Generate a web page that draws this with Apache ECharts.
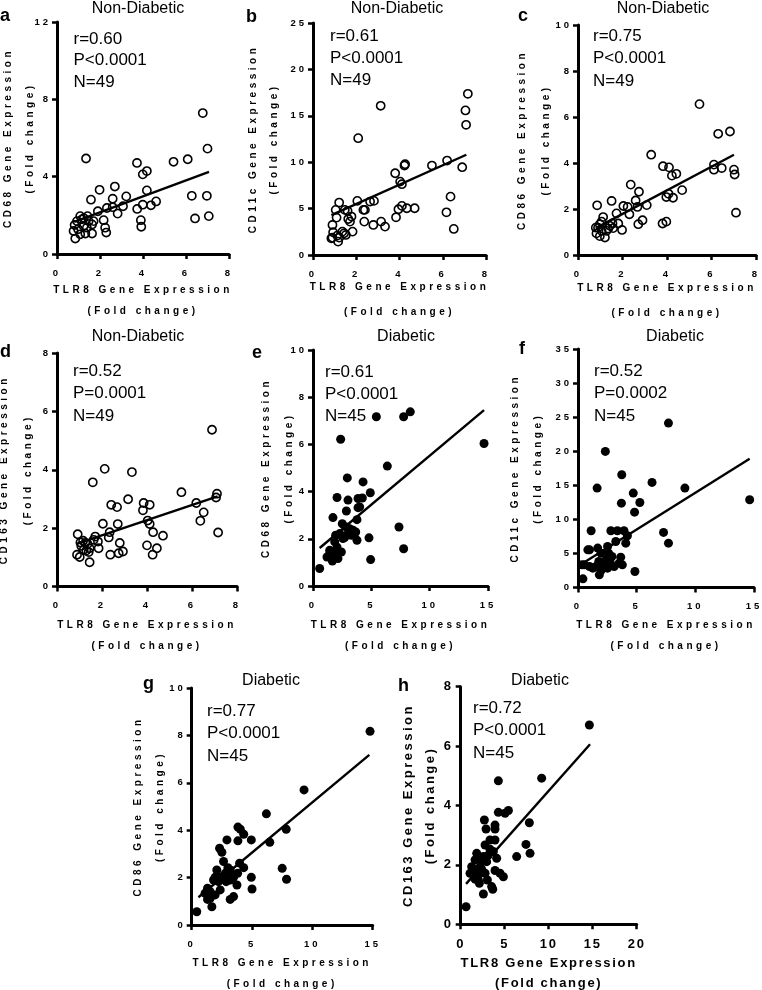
<!DOCTYPE html>
<html><head><meta charset="utf-8">
<script src="https://cdn.jsdelivr.net/npm/echarts@6/dist/echarts.min.js"></script>
<style>
html,body{margin:0;padding:0;background:#fff;overflow:hidden}
#c{width:762px;height:990px}
</style></head>
<body><div id="c"></div>
<script>
// ---------- DATA ----------
const panelLetters = ['a','b','c','d','e','f','g','h'];
const groupTitles = ['Non-Diabetic','Non-Diabetic','Non-Diabetic','Non-Diabetic','Diabetic','Diabetic','Diabetic','Diabetic'];
const xAxisTitle = 'TLR8 Gene Expression';
const foldLabel = '(Fold change)';
const yAxisTitles = ['CD68 Gene Expression','CD11c Gene Expression','CD86 Gene Expression','CD163 Gene Expression','CD68 Gene Expression','CD11c Gene Expression','CD86 Gene Expression','CD163 Gene Expression'];
const rText = ['r=0.60','r=0.61','r=0.75','r=0.52','r=0.61','r=0.52','r=0.77','r=0.72'];
const pText = ['P<0.0001','P<0.0001','P<0.0001','P=0.0001','P<0.0001','P=0.0002','P<0.0001','P<0.0001'];
const nText = ['N=49','N=49','N=49','N=49','N=45','N=45','N=45','N=45'];

const aTLR8 = [6.78,7.00,6.08,5.42,3.72,4.18,3.99,1.35,1.98,2.69,3.22,4.18,6.27,6.97,1.58,2.59,4.61,4.37,3.99,3.73,3.07,2.82,2.59,2.32,1.90,2.17,2.24,2.29,3.90,3.92,6.42,7.06,1.42,1.08,0.93,0.82,0.77,0.85,1.08,1.24,1.39,1.63,1.63,1.70,1.32,1.16,0.98,1.47,1.25];
const aCD68 = [7.29,5.45,4.90,4.77,4.71,4.29,4.12,4.94,3.32,3.49,2.98,3.29,3.01,3.01,2.81,2.86,2.72,2.52,2.55,2.33,2.47,2.09,2.42,2.38,2.21,1.75,1.36,1.11,1.75,1.41,1.84,1.96,1.96,1.96,1.70,1.50,1.19,0.80,1.02,1.45,1.36,1.06,1.53,1.70,1.06,1.79,1.28,1.70,1.85];
const aFitX = [0.80,7.07], aFitY = [1.66,4.25];
const bTLR8 = [7.16,7.05,7.08,3.13,2.09,5.50,6.20,6.90,4.23,4.26,3.80,4.03,4.11,4.11,3.95,3.84,4.34,4.70,6.36,6.17,6.51,2.64,2.82,2.05,2.33,2.37,2.79,3.15,3.33,1.21,1.05,1.47,1.60,1.09,1.78,1.71,0.90,1.36,1.83,1.52,0.93,0.90,1.21,1.16,1.12,1.44,0.85,1.63,2.40];
const bCD11c = [17.37,15.58,14.03,16.08,12.59,9.64,10.18,9.46,9.64,9.78,8.81,7.91,7.63,5.29,4.93,4.06,5.04,5.04,6.29,4.60,2.81,5.76,5.83,5.83,4.86,3.60,3.24,3.60,3.06,5.65,4.86,4.86,4.75,4.03,4.14,3.60,3.24,2.52,2.52,2.16,2.45,1.87,1.87,1.44,2.09,2.34,1.80,3.88,4.86];
const bFitX = [0.85,7.09], bFitY = [4.30,10.80];
const cTLR8 = [5.46,6.30,6.83,6.11,6.46,6.11,7.01,7.04,7.10,3.29,3.82,4.09,4.22,4.42,4.68,4.07,3.97,4.27,2.37,2.74,2.59,3.09,2.67,2.90,2.71,3.80,3.97,1.51,0.86,2.04,2.23,2.31,1.73,1.81,1.98,1.13,1.06,0.90,0.83,0.98,1.21,1.36,1.28,1.55,1.06,0.98,1.43,1.58,0.80];
const cCD86 = [6.56,5.27,5.37,3.93,3.78,3.71,3.71,3.50,1.84,4.36,3.86,3.81,3.45,3.53,2.82,2.66,2.52,2.49,3.06,2.75,2.37,2.17,2.09,1.51,1.34,1.37,1.45,2.35,2.16,2.13,2.09,1.77,1.81,1.37,1.09,1.65,1.45,1.19,0.94,0.82,0.76,1.15,1.05,1.37,1.05,1.34,1.27,1.17,1.19];
const cFitX = [0.80,7.01], cFitY = [1.17,4.36];
const dTLR8 = [6.89,2.12,3.33,1.59,5.53,7.11,7.07,6.19,6.52,6.37,7.16,3.16,2.41,2.67,3.82,4.12,3.85,4.03,4.12,4.27,4.71,4.00,4.44,4.25,2.04,2.70,2.34,2.30,2.79,2.93,2.74,2.37,1.70,1.82,1.85,0.92,1.16,1.08,1.30,1.45,0.89,1.01,1.45,1.41,1.19,1.63,1.04,1.26,1.36];
const dCD163 = [5.37,4.03,3.92,3.57,3.23,3.18,3.05,2.86,2.54,2.25,1.85,2.99,2.80,2.72,2.61,2.80,2.86,2.26,2.14,1.86,1.74,1.41,1.31,1.09,2.15,2.14,1.86,1.68,1.49,1.20,1.14,1.09,1.71,1.54,1.31,1.79,1.57,1.39,1.23,1.31,1.09,1.01,0.83,1.18,1.26,1.60,1.51,1.49,1.46];
const dFitX = [0.90,7.14], dFitY = [1.47,3.09];
const eTLR8 = [14.66,8.34,7.77,5.43,2.37,6.37,2.94,4.29,4.91,2.06,3.00,3.86,4.23,3.86,2.86,3.77,1.71,2.51,7.37,7.77,4.80,4.94,1.94,3.00,3.43,3.14,3.66,3.77,2.71,2.29,1.86,1.43,1.20,1.66,2.14,2.43,2.00,1.43,0.57,3.29,2.86,2.06,4.00,1.86,2.57];
const eCD68 = [6.04,7.38,7.17,7.17,6.22,5.08,4.58,4.41,3.95,3.75,3.64,3.71,3.73,3.32,3.18,2.81,2.90,2.64,2.50,1.58,2.04,1.12,2.15,2.22,2.36,2.43,2.29,1.94,2.05,2.22,1.87,1.51,1.23,1.06,1.16,1.44,1.37,1.37,0.74,2.15,2.50,1.65,3.35,1.20,2.01];
const eFitX = [0.57,14.66], eFitY = [1.61,7.45];
const fTLR8 = [14.63,7.71,2.33,3.73,1.63,6.31,9.11,4.71,5.27,3.70,4.82,7.29,7.71,4.85,1.12,2.80,3.36,3.92,4.21,4.07,3.22,2.52,1.68,0.98,1.96,2.61,2.89,3.64,3.50,3.78,3.08,2.52,2.24,1.77,1.26,1.82,0.98,0.34,0.42,1.54,1.96,2.38,2.72,0.56,0.84];
const fCD11c = [12.87,24.13,19.97,16.54,14.59,15.42,14.59,13.85,12.48,12.38,11.06,8.08,6.51,2.35,8.32,8.32,8.32,8.32,7.59,6.51,6.75,6.02,5.78,5.53,5.04,5.04,4.55,4.45,3.57,3.33,3.08,2.84,3.33,3.82,2.84,1.86,3.08,3.33,1.27,3.08,2.50,4.06,3.82,3.33,5.53];
const fFitX = [0.34,14.63], fFitY = [3.50,18.90];
const gTLR8 = [14.78,9.31,6.19,7.83,6.47,7.50,7.86,4.94,4.94,5.00,3.83,4.03,4.31,3.83,2.92,2.31,2.50,2.64,3.97,4.31,3.81,3.75,3.19,3.00,3.47,3.19,2.86,2.50,2.08,1.94,1.81,2.22,1.31,1.53,1.11,1.31,1.94,1.67,0.42,3.19,3.47,1.53,2.78,2.36,3.33];
const gCD86 = [8.17,5.70,4.69,4.04,3.49,2.39,1.93,3.59,2.01,1.52,4.13,4.04,3.83,3.55,3.59,3.24,3.07,2.68,2.61,2.42,2.18,1.69,2.32,2.42,2.01,1.90,1.83,2.04,2.32,2.01,1.90,1.83,1.55,1.41,1.34,1.08,1.27,0.77,0.56,1.08,1.20,1.13,2.18,1.48,2.11];
const gFitX = [0.56,14.72], gFitY = [1.17,7.18];
const hTLR8 = [14.62,9.20,4.28,4.28,5.04,5.42,7.80,7.42,7.88,6.36,3.90,3.90,2.69,2.88,3.90,2.77,3.33,3.71,4.09,3.90,4.85,3.14,2.58,2.95,2.20,1.82,1.25,1.82,1.44,2.01,1.63,2.12,3.03,3.64,2.58,0.61,2.31,1.06,2.77,2.39,1.63,3.52,3.33,4.47,2.01];
const hCD163 = [6.71,4.92,4.83,3.77,3.74,3.83,3.42,2.69,2.39,2.28,3.34,3.21,3.51,3.21,2.84,2.67,2.53,2.45,2.22,1.81,1.60,2.33,2.28,2.11,1.94,2.39,1.94,1.83,1.72,1.66,1.52,1.38,1.49,1.18,1.02,0.59,2.17,1.72,1.72,1.85,2.17,1.27,2.84,1.72,1.49];
const hFitX = [0.61,14.70], hFitY = [1.36,6.06];
const xRanges = [[0,8,2],[0,8,2],[0,8,2],[0,8,2],[0,15,5],[0,15,5],[0,15,5],[0,20,5]];
const yRanges = [[0,12,4],[0,25,5],[0,10,2],[0,8,2],[0,10,2],[0,35,5],[0,10,2],[0,8,2]];

// ---------- letter spacing for the GraphPad-style bold axis texts (canvas) ----------
(function(){
  const P = CanvasRenderingContext2D.prototype;
  const spacingFor = f => f.indexOf('lssp')>=0 ? '3.5px' : f.indexOf('lsst')>=0 ? '3px' :
                          f.indexOf('lssv')>=0 ? '2.5px' : f.indexOf('lssh')>=0 ? '1.7px' : '0px';
  if ('letterSpacing' in P) {
    const of = P.fillText, os = P.strokeText;
    P.fillText = function(t,x,y,m){ this.letterSpacing = spacingFor(this.font); return m===undefined ? of.call(this,t,x,y) : of.call(this,t,x,y,m); };
    P.strokeText = function(t,x,y,m){ this.letterSpacing = spacingFor(this.font); return m===undefined ? os.call(this,t,x,y) : os.call(this,t,x,y,m); };
  }
})();

// ---------- LAYOUT ----------
const dataX = [aTLR8,bTLR8,cTLR8,dTLR8,eTLR8,fTLR8,gTLR8,hTLR8];
const dataY = [aCD68,bCD11c,cCD86,dCD163,eCD68,fCD11c,gCD86,hCD163];
const fitX = [aFitX,bFitX,cFitX,dFitX,eFitX,fFitX,gFitX,hFitX];
const fitY = [aFitY,bFitY,cFitY,dFitY,eFitY,fFitY,gFitY,hFitY];
const filled = [false,false,false,false,true,true,true,true];
const L = [
 {g:[57,22,172,232],    xGap:26,  xLH:21, yGap:16,   yLH:22,   title:[138,8.5],  stats:[73.5,28.5,21.5], letter:[0,16.5]},
 {g:[313,23,173,232],   xGap:20,  xLH:25, yGap:27.8, yLH:21,   title:[397,8.5],  stats:[330,25,22],     letter:[246,17]},
 {g:[578,25,178,230],   xGap:21,  xLH:25, yGap:19.6, yLH:24,   title:[663,8.5],  stats:[593,25,22.5],   letter:[518,16.5]},
 {g:[57,353,180,233.5], xGap:28,  xLH:21, yGap:16.8, yLH:24,   title:[138,336.5],stats:[73,360,22.5],   letter:[0,352]},
 {g:[313,350,175,236],  xGap:29,  xLH:21, yGap:12.7, yLH:22.6, title:[406,336.5],stats:[325,361,22],    letter:[252,353.5]},
 {g:[578,349,176,238.5],xGap:27,  xLH:21, yGap:28.3, yLH:23.3, title:[675,336.5],stats:[594,360,22.5],   letter:[519,349.5]},
 {g:[191.7,688,181,237],xGap:27.5,xLH:21, yGap:20.8, yLH:21.7, title:[271,680.5],stats:[207,700,22.5],   letter:[143,684.5]},
 {g:[460.7,686.7,176,237.6],xGap:29,xLH:20,yGap:19.8,yLH:21.7, title:[540,680.5],stats:[473,697,22.5],   letter:[398,686]}
];
const FAM = 'Liberation Sans';
const grids=[], xAxes=[], yAxes=[], series=[], graphics=[];
for (let i=0;i<8;i++){
  const l=L[i], big=(i===7);
  grids.push({left:l.g[0], top:l.g[1], width:l.g[2], height:l.g[3], containLabel:false, outerBoundsMode:'none'});
  const tickFam = big ? FAM+', lssh' : FAM+', lsst';
  const xNameFam = big ? FAM+', lssh' : FAM+', lssp';
  const yNameFam = big ? FAM+', lssv' : FAM+', lssp';
  const tickSize = big ? 13 : 9.5;
  const nameSize = big ? 13 : 10;
  const mk = () => ({
    type:'value', splitLine:{show:false},
    axisLine:{show:true, onZero:false, lineStyle:{color:'#000', width:3}},
    axisTick:{show:true, length:5, lineStyle:{color:'#000', width:2.5}},
    nameLocation:'middle', nameMoveOverlap:false
  });
  xAxes.push(Object.assign(mk(), {
    gridIndex:i, min:xRanges[i][0], max:xRanges[i][1], interval:xRanges[i][2],
    axisLabel:{color:'#000', fontSize:tickSize, fontWeight:'bold', fontFamily:tickFam, margin:14},
    name: xAxisTitle+'\n'+foldLabel, nameGap:l.xGap,
    nameTextStyle:{color:'#000', fontSize:nameSize, fontWeight:'bold', fontFamily:xNameFam, lineHeight:l.xLH}
  }));
  yAxes.push(Object.assign(mk(), {
    gridIndex:i, min:yRanges[i][0], max:yRanges[i][1], interval:yRanges[i][2],
    axisLabel:{color:'#000', fontSize:tickSize, fontWeight:'bold', fontFamily:tickFam, margin: big ? 8 : 6},
    name: yAxisTitles[i]+'\n'+foldLabel, nameGap:l.yGap,
    nameTextStyle:{color:'#000', fontSize:nameSize, fontWeight:'bold', fontFamily:yNameFam, lineHeight:l.yLH}
  }));
  series.push({
    type:'scatter', xAxisIndex:i, yAxisIndex:i,
    data: dataX[i].map((v,k)=>[v, dataY[i][k]]),
    symbol:'circle', symbolSize: filled[i] ? 9 : 8.2,
    itemStyle: filled[i] ? {color:'#000', opacity:1} : {color:'rgba(255,255,255,0)', borderColor:'#000', borderWidth:1.6, opacity:1},
    z:2, silent:true
  });
  series.push({
    type:'line', xAxisIndex:i, yAxisIndex:i,
    data: fitX[i].map((v,k)=>[v, fitY[i][k]]),
    symbol:'none', lineStyle:{color:'#000', width:2.4}, z:3, silent:true
  });
  graphics.push({type:'text', x:l.title[0], y:l.title[1], style:{text:groupTitles[i], font:'16px '+FAM, fill:'#000', align:'center', verticalAlign:'middle'}});
  graphics.push({type:'text', x:l.stats[0], y:l.stats[1], style:{text:rText[i]+'\n'+pText[i]+'\n'+nText[i], font:'17px '+FAM, lineHeight:l.stats[2], fill:'#000', align:'left', verticalAlign:'top'}});
  graphics.push({type:'text', x:l.letter[0], y:l.letter[1], style:{text:panelLetters[i], font:'bold 18px '+FAM, fill:'#000', align:'left', verticalAlign:'middle'}});
}
const chart = echarts.init(document.getElementById('c'), null, {renderer:'canvas', devicePixelRatio:1, width:762, height:990});
chart.setOption({
  animation:false, backgroundColor:'#fff',
  grid:grids, xAxis:xAxes, yAxis:yAxes, series:series, graphic:graphics
});
</script></body></html>
